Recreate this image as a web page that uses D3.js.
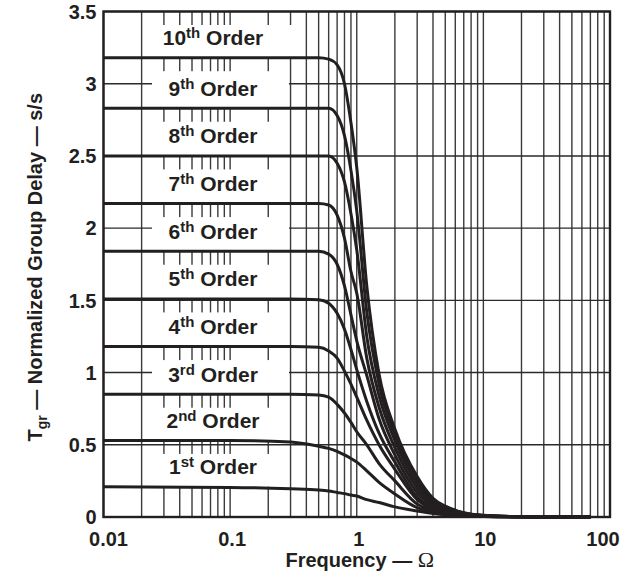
<!DOCTYPE html>
<html>
<head>
<meta charset="utf-8">
<script src="https://cdn.jsdelivr.net/npm/d3@7"></script>
<style>
  body { margin: 0; background: #fff; }
  text { font-family: "Liberation Sans", Arial, sans-serif; font-weight: bold; fill: #231f20; }
</style>
</head>
<body>
<div id="drawing_region"></div>
<script>
// frequency points (Omega) shared by all curves
const freq = [0.01, 0.1, 0.3, 0.5, 0.6, 0.7, 0.8, 0.9, 1.0, 1.2, 1.5, 2, 3, 4, 5, 7, 10, 20, 70];

// normalized group delay, one array per filter order
const order1  = [0.21, 0.205, 0.195, 0.187, 0.18, 0.17, 0.162, 0.152, 0.145, 0.12, 0.10, 0.07, 0.042, 0.025, 0.015, 0.007, 0.003, 0.001, 0];
const order2  = [0.53, 0.53, 0.52, 0.49, 0.475, 0.455, 0.43, 0.405, 0.38, 0.32, 0.24, 0.16, 0.065, 0.035, 0.02, 0.01, 0.004, 0.001, 0];
const order3  = [0.85, 0.85, 0.85, 0.845, 0.83, 0.78, 0.72, 0.655, 0.59, 0.50, 0.37, 0.25, 0.09, 0.045, 0.025, 0.012, 0.005, 0.001, 0];
const order4  = [1.18, 1.18, 1.18, 1.175, 1.15, 1.10, 1.01, 0.92, 0.83, 0.67, 0.50, 0.33, 0.12, 0.055, 0.03, 0.014, 0.006, 0.001, 0];
const order5  = [1.51, 1.51, 1.51, 1.505, 1.48, 1.41, 1.30, 1.16, 1.02, 0.80, 0.58, 0.38, 0.14, 0.065, 0.035, 0.016, 0.007, 0.001, 0];
const order6  = [1.84, 1.84, 1.84, 1.84, 1.82, 1.75, 1.60, 1.40, 1.22, 0.98, 0.68, 0.43, 0.17, 0.08, 0.04, 0.018, 0.008, 0.002, 0];
const order7  = [2.17, 2.17, 2.17, 2.17, 2.16, 2.09, 1.93, 1.70, 1.55, 1.10, 0.76, 0.48, 0.20, 0.095, 0.05, 0.021, 0.009, 0.002, 0];
const order8  = [2.50, 2.50, 2.50, 2.50, 2.50, 2.45, 2.32, 2.10, 1.85, 1.25, 0.84, 0.53, 0.23, 0.11, 0.06, 0.025, 0.01, 0.002, 0];
const order9  = [2.83, 2.83, 2.83, 2.83, 2.83, 2.78, 2.64, 2.40, 2.12, 1.42, 0.92, 0.57, 0.26, 0.12, 0.068, 0.028, 0.011, 0.002, 0];
const order10 = [3.18, 3.18, 3.18, 3.18, 3.17, 3.13, 3.00, 2.73, 2.42, 1.60, 0.99, 0.61, 0.28, 0.13, 0.075, 0.03, 0.012, 0.002, 0];

const series = [order1, order2, order3, order4, order5, order6, order7, order8, order9, order10];
const orderNames = ['1', '2', '3', '4', '5', '6', '7', '8', '9', '10'];
const suffixes = ['st', 'nd', 'rd', 'th', 'th', 'th', 'th', 'th', 'th', 'th'];

const xTicks = [0.01, 0.1, 1, 10, 100];
const yTicks = [0, 0.5, 1, 1.5, 2, 2.5, 3, 3.5];

const config = {
    width: 630,
    height: 580,
    margin: {top: 11.5, right: 20, bottom: 63, left: 103.5}
};

const inner_width = config.width - config.margin.left - config.margin.right;
const inner_height = config.height - config.margin.top - config.margin.bottom;

const svg = d3.select('#drawing_region')
    .append('svg')
    .attr('width', config.width)
    .attr('height', config.height);

const chart = svg.append('g')
    .attr('transform', `translate(${config.margin.left}, ${config.margin.top})`);

const xscale = d3.scaleLog()
    .domain([0.01, 100])
    .range([0, inner_width]);

const yscale = d3.scaleLinear()
    .domain([0, 3.5])
    .range([inner_height, 0]);

// minor + major vertical grid (1..9 in each decade)
const vgrid = [];
for (let e = -2; e < 2; e++) {
    for (let m = 1; m <= 9; m++) vgrid.push(m * Math.pow(10, e));
}
chart.append('g')
    .selectAll('line')
    .data(vgrid)
    .join('line')
    .attr('x1', d => xscale(d))
    .attr('x2', d => xscale(d))
    .attr('y1', 0)
    .attr('y2', inner_height)
    .attr('stroke', '#3a3a3a')
    .attr('stroke-width', 1.4);

chart.append('g')
    .selectAll('line')
    .data(yTicks)
    .join('line')
    .attr('x1', 0)
    .attr('x2', inner_width)
    .attr('y1', d => yscale(d))
    .attr('y2', d => yscale(d))
    .attr('stroke', '#2a2a2a')
    .attr('stroke-width', 1.4);

// white label boxes sitting between the flat parts of the curves
const flat = series.map(s => s[0]);
chart.append('g')
    .selectAll('rect')
    .data(flat)
    .join('rect')
    .attr('x', (d, i) => i === 9 ? 147 - config.margin.left : 152 - config.margin.left)
    .attr('width', (d, i) => i === 9 ? 151 : 137)
    .attr('y', (d, i) => (i === 9 ? 0 : yscale(flat[i + 1])) + 13.5)
    .attr('height', (d, i) => yscale(d) - (i === 9 ? 0 : yscale(flat[i + 1])) - 13.5)
    .attr('fill', '#fff');

// curves
const line = d3.line()
    .x(d => xscale(d[0]))
    .y(d => yscale(d[1]))
    .curve(d3.curveMonotoneX);

chart.append('g')
    .selectAll('path')
    .data(series)
    .join('path')
    .attr('d', s => line(freq.map((f, i) => [f, s[i]])))
    .attr('fill', 'none')
    .attr('stroke', '#231f20')
    .attr('stroke-width', 3)
    .attr('stroke-linejoin', 'round');

// order labels
const labels = chart.append('g')
    .selectAll('text')
    .data(flat)
    .join('text')
    .attr('x', 213 - config.margin.left)
    .attr('y', d => yscale(d) - 12.5)
    .attr('text-anchor', 'middle')
    .style('font-size', '21px');
labels.append('tspan').text((d, i) => orderNames[i]);
labels.append('tspan').text((d, i) => suffixes[i])
    .attr('dy', -7).style('font-size', '15px');
labels.append('tspan').text(' Order').attr('dy', 7);

// frame
chart.append('rect')
    .attr('width', inner_width)
    .attr('height', inner_height)
    .attr('fill', 'none')
    .attr('stroke', '#231f20')
    .attr('stroke-width', 2.4);

// tick labels
chart.append('g')
    .selectAll('text')
    .data(yTicks)
    .join('text')
    .attr('x', -7)
    .attr('y', d => yscale(d))
    .attr('dy', '0.36em')
    .attr('text-anchor', 'end')
    .style('font-size', '20px')
    .text(d => d);

chart.append('g')
    .selectAll('text')
    .data(xTicks)
    .join('text')
    .attr('x', (d, i) => xscale(d) + (i === 0 ? 5 : i === xTicks.length - 1 ? -7 : 2))
    .attr('y', inner_height + 29)
    .attr('text-anchor', 'middle')
    .style('font-size', '20px')
    .text(d => d);

// axis titles
const xtitle = chart.append('text')
    .attr('x', inner_width / 2 + 3)
    .attr('y', inner_height + 50)
    .attr('text-anchor', 'middle')
    .style('font-size', '20px');
xtitle.append('tspan').text('Frequency — ');
xtitle.append('tspan').text('Ω')
    .style('font-family', '"Liberation Serif", serif')
    .style('font-weight', 'normal')
    .style('font-size', '22px');

const ytitle = svg.append('text')
    .attr('transform', `translate(42, ${config.margin.top + inner_height / 2 + 3}) rotate(-90)`)
    .attr('text-anchor', 'middle')
    .style('font-size', '20px');
ytitle.append('tspan').text('T');
ytitle.append('tspan').text('gr').attr('dy', 5).style('font-size', '14px');
ytitle.append('tspan').text(' — Normalized Group Delay — s/s').attr('dy', -5);
</script>
</body>
</html>
